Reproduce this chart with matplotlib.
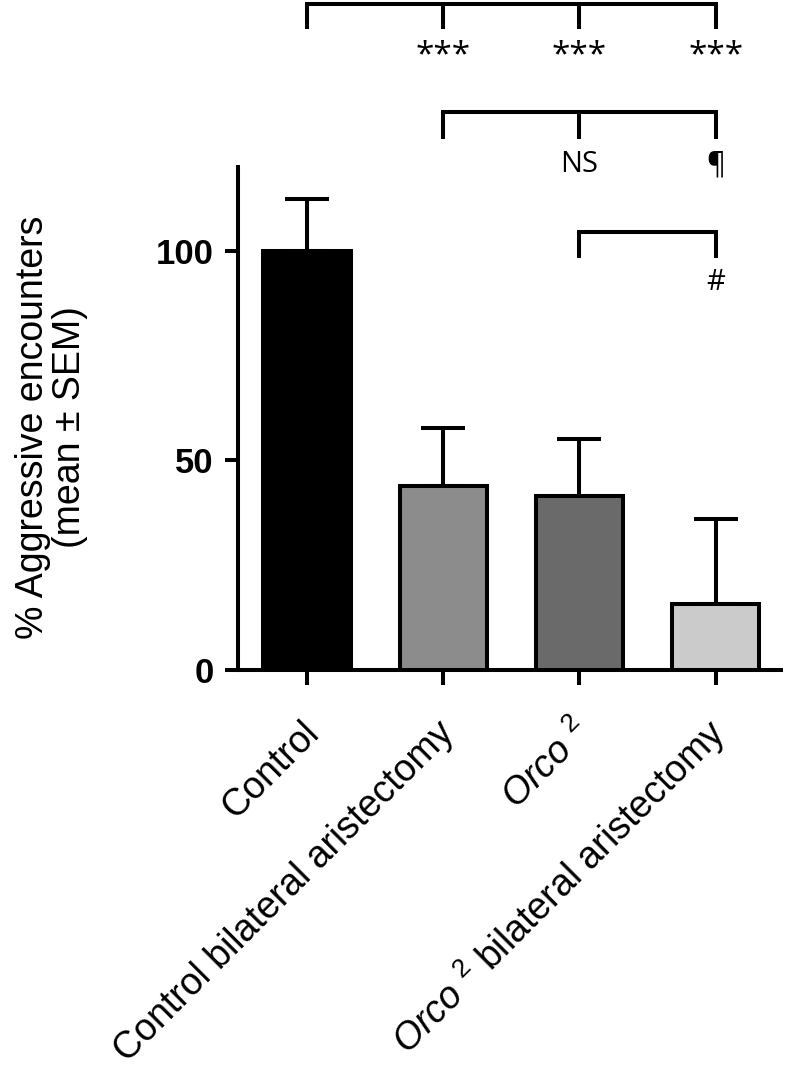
import matplotlib
matplotlib.use("Agg")
import matplotlib.pyplot as plt
from matplotlib.transforms import ScaledTranslation

plt.rcParams['font.family'] = ['Liberation Sans', 'DejaVu Sans']
plt.rcParams['mathtext.fontset'] = 'custom'
plt.rcParams['mathtext.rm'] = 'Liberation Sans'
plt.rcParams['mathtext.it'] = 'Liberation Sans:italic'

# ---- data ----
categories = ['Control', 'Control bilateral aristectomy',
              r'$\mathit{Orco}$ $^{2}$', r'$\mathit{Orco}$ $^{2}$ bilateral aristectomy']
means = [100.0, 43.9, 41.6, 15.7]
sem = [12.4, 13.9, 13.5, 20.3]
bar_colors = ['#000000', '#8c8c8c', '#6a6a6a', '#cbcbcb']
yticks = [0, 50, 100]

# significance brackets: (x positions of ticks, bar level, tick bottom, label level, labels per tick)
brackets = [
    ([0, 1, 2, 3], 159.0, 153.0, 146.6, [None, '***', '***', '***']),
    ([1, 2, 3], 133.2, 126.7, 120.5, [None, 'NS', '\u00b6']),
    ([2, 3], 104.5, 98.3, 92.4, [None, '#']),
]
label_sizes = [24, 21, 21]

DPI = 100
fig = plt.figure(figsize=(7.96, 10.75), dpi=DPI)
ax = fig.add_axes([238 / 796, 1 - 670 / 1075, (781 - 238) / 796, (670 - 167) / 1075])

LW = 2.9
x = list(range(len(means)))
ax.bar(x, means, width=0.64, color=bar_colors, edgecolor='black', linewidth=LW, zorder=3)
ax.errorbar(x, means, yerr=[[0] * len(sem), sem], fmt='none', ecolor='black',
            elinewidth=LW, capsize=16, capthick=LW, zorder=2)

ax.set_xlim(-0.507, 3.48)
ax.set_ylim(0, 120)
ax.set_yticks(yticks)
ax.set_yticklabels([str(v) for v in yticks], fontsize=25, fontweight='bold')

for s in ['top', 'right']:
    ax.spines[s].set_visible(False)
for s in ['left', 'bottom']:
    ax.spines[s].set_linewidth(LW)
ax.spines['left'].set_capstyle('projecting')

ax.tick_params(axis='y', length=9.4, width=LW, pad=8)
ax.tick_params(axis='x', length=10.8, width=LW, pad=36)

ax.set_xticks(x)
ax.set_xticklabels(categories, fontsize=27, rotation=45, ha='right', va='baseline',
                   rotation_mode='anchor')
off = ScaledTranslation(13 / DPI, 0, fig.dpi_scale_trans)
for lab in ax.get_xticklabels():
    lab.set_transform(lab.get_transform() + off)

ax.set_ylabel('% Aggressive encounters\n(mean \u00b1 SEM)', fontsize=27, linespacing=1.05)
ax.yaxis.set_label_coords((88 - 238) / (781 - 238), 0.482)

# brackets
for (xs, top, bottom, lab_y, labels), fs in zip(brackets, label_sizes):
    ax.plot([xs[0], xs[-1]], [top, top], color='black', lw=LW, clip_on=False,
            solid_capstyle='projecting')
    for xi, lab in zip(xs, labels):
        ax.plot([xi, xi], [top, bottom], color='black', lw=LW, clip_on=False,
                solid_capstyle='butt')
        if lab:
            ax.text(xi, lab_y, lab, ha='center', va='center', fontsize=fs,
                    family=['Open Sans', 'DejaVu Sans'], clip_on=False)

fig.savefig('out.png', dpi=DPI)
